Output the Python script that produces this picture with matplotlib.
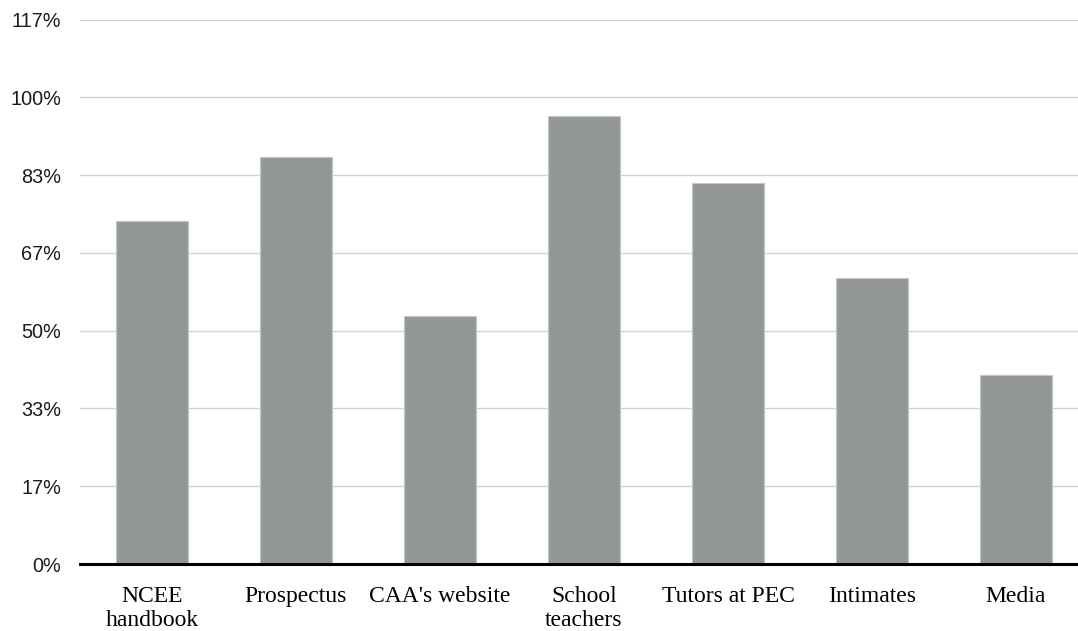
import numpy as np
import matplotlib.pyplot as plt
from matplotlib.ticker import FuncFormatter

# sources of information (bar chart, share of respondents)
categories = ["NCEE\nhandbook", "Prospectus", "CAA's website", "School\nteachers",
              "Tutors at PEC", "Intimates", "Media"]
shares = [73.5, 87.2, 53.1, 95.9, 81.6, 61.2, 40.4]

# axis ticks in steps of one sixth
tick_values = np.arange(0, 8) * 100 / 6

fig = plt.figure(figsize=(10.78, 6.31), dpi=100)
ax = fig.add_axes([80 / 1078, 67 / 631, 1008 / 1078, 544.5 / 631])

x = np.arange(len(categories))
ax.bar(x, shares, width=0.5, color='#939895', edgecolor='#c4c7c5',
       linewidth=0.8, zorder=3)

ax.set_xlim(-0.5, len(categories) - 0.5)
ax.set_ylim(0, 700 / 6)
ax.set_yticks(tick_values)
ax.yaxis.set_major_formatter(FuncFormatter(lambda v, p: f'{v:.0f}%'))

ax.set_xticks(x)
ax.set_xticklabels(categories, family='Liberation Serif', fontsize=17,
                   linespacing=1.2)
for lbl in ax.get_yticklabels():
    lbl.set_family('Liberation Sans')
    lbl.set_fontsize(14.3)
    lbl.set_color('#1a1a1a')

ax.tick_params(axis='y', length=0, pad=13.5)
ax.tick_params(axis='x', length=0, pad=15.5)

ax.grid(axis='y', color='#d4d4d4', linewidth=1.0, zorder=0)
for s in ['top', 'right', 'left']:
    ax.spines[s].set_visible(False)
ax.spines['bottom'].set_linewidth(2.2)
ax.spines['bottom'].set_color('black')
ax.spines['bottom'].set_zorder(4)

plt.savefig("out.png", dpi=100)
